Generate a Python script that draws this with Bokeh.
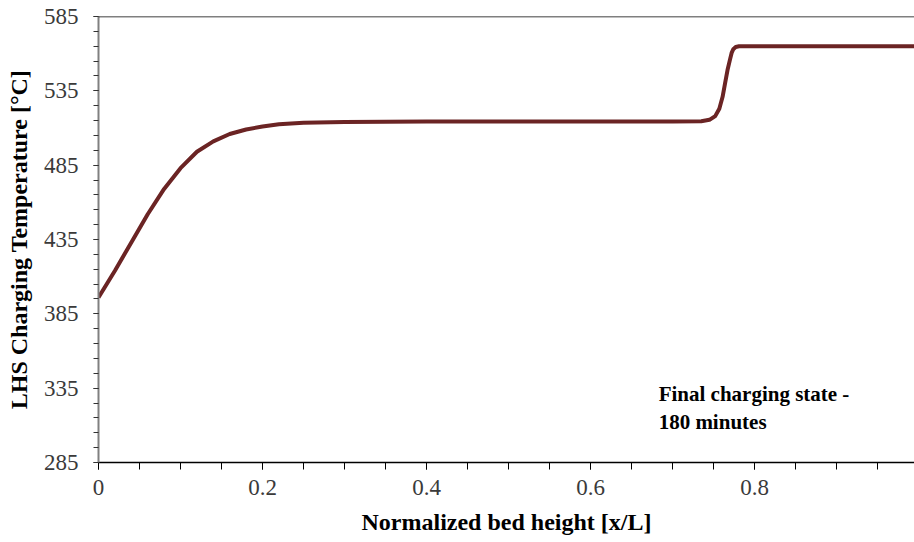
from bokeh.plotting import figure
from bokeh.models import Range1d, FixedTicker, Span, ColumnDataSource
from bokeh.core.properties import value
from bokeh.embed import file_html
from bokeh.resources import INLINE

# Data
bed_height = [0.0, 0.02, 0.04, 0.06, 0.08, 0.10, 0.12, 0.14, 0.16, 0.18, 0.20,
              0.22, 0.25, 0.30, 0.40, 0.50, 0.60, 0.70, 0.735, 0.745, 0.752,
              0.757, 0.761, 0.764, 0.767, 0.770, 0.772, 0.774, 0.777, 0.781,
              0.79, 0.80, 0.90, 1.0]
temperature = [396, 414, 433, 452, 469, 483, 494, 501, 506, 509, 511,
               512.5, 513.5, 514, 514.3, 514.4, 514.4, 514.4, 514.5, 515.5, 518,
               523, 531, 540, 549, 556, 560.5, 563, 564.5, 565,
               565, 565, 565, 565]

y_major = [285, 335, 385, 435, 485, 535, 585]
x_major = [0, 0.2, 0.4, 0.6, 0.8]
annotation_lines = ["Final charging state -", "180 minutes"]

FONT = "Liberation Serif"

p = figure(width=914, height=542, output_backend="svg", toolbar_location=None,
           x_range=Range1d(0, 0.995), y_range=Range1d(285, 585),
           min_border_left=98, min_border_right=0, min_border_top=16,
           min_border_bottom=80)
p.outline_line_color = None
p.grid.visible = False
p.background_fill_color = "white"
p.border_fill_color = "white"

src = ColumnDataSource(dict(x=bed_height, y=temperature))
p.line("x", "y", source=src, line_color="#6B2424", line_width=4, line_join="round")

p.add_layout(Span(location=585, dimension="width", line_color="black", line_width=1.5))

# y axis
ya = p.yaxis[0]
ya.ticker = FixedTicker(ticks=y_major, minor_ticks=list(range(285, 586, 10)))
ya.axis_line_color = "#808080"
ya.axis_line_width = 2
ya.major_tick_out = 5
ya.major_tick_in = 0
ya.minor_tick_out = 5
ya.minor_tick_in = 0
ya.major_tick_line_color = "#333333"
ya.minor_tick_line_color = "#333333"
ya.major_label_text_font = FONT
ya.major_label_text_font_size = "23px"
ya.major_label_text_color = "#3a3a3a"
ya.major_label_standoff = 15
ya.axis_label = "LHS Charging Temperature [°C]"
ya.axis_label_text_font = FONT
ya.axis_label_text_font_size = "24px"
ya.axis_label_text_font_style = "bold"
ya.axis_label_text_color = "black"
ya.axis_label_standoff = 9

# x axis
xa = p.xaxis[0]
xa.ticker = FixedTicker(ticks=x_major, minor_ticks=[i * 0.05 for i in range(0, 21)])
xa.axis_line_color = "black"
xa.axis_line_width = 1.5
xa.major_tick_out = 7
xa.major_tick_in = 0
xa.minor_tick_out = 7
xa.minor_tick_in = 0
xa.major_tick_line_color = "black"
xa.minor_tick_line_color = "black"
xa.major_label_text_font = FONT
xa.major_label_text_font_size = "23px"
xa.major_label_text_color = "#3a3a3a"
xa.major_label_standoff = 10
xa.axis_label = "Normalized bed height [x/L]"
xa.axis_label_text_font = FONT
xa.axis_label_text_font_size = "24px"
xa.axis_label_text_font_style = "bold"
xa.axis_label_text_color = "black"
xa.axis_label_standoff = 11

ann = ColumnDataSource(dict(x=[0.683, 0.683], y=[339, 320.5], t=annotation_lines))
p.text("x", "y", text="t", source=ann, text_font=value(FONT), text_font_size="21px",
       text_font_style="bold", text_color="black", text_baseline="top", text_align="left")

open("out.html", "w").write(file_html(p, INLINE))
